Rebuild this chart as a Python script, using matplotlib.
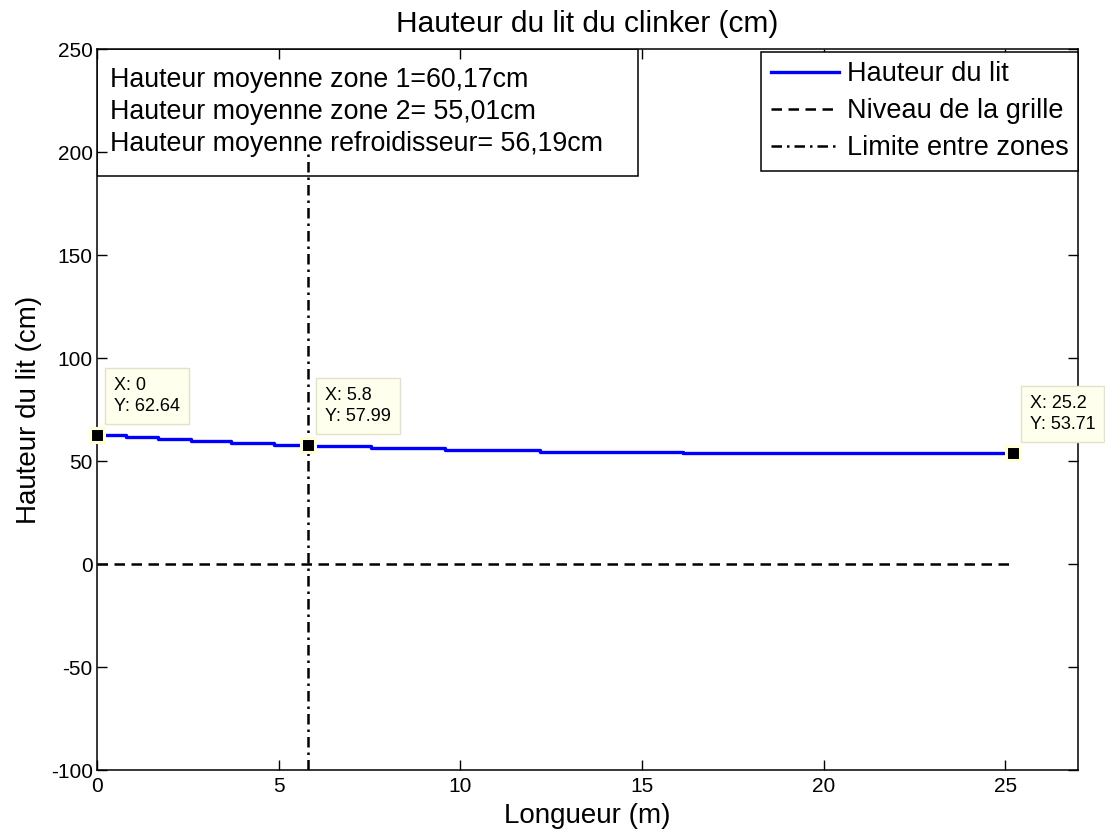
import matplotlib
matplotlib.use("Agg")
import matplotlib.pyplot as plt
from matplotlib.patches import Rectangle

plt.rcParams['font.family'] = ['Liberation Sans', 'DejaVu Sans']
plt.rcParams['axes.unicode_minus'] = False

# Bed height profile along the cooler (step positions in m, levels in cm)
bed_x = [0.0, 0.81, 1.67, 2.58, 3.68, 4.86, 5.8, 7.54, 9.59, 12.18, 16.14, 25.2]
bed_y = [62.64, 61.5, 60.6, 59.8, 58.9, 57.99, 57.1, 56.2, 55.3, 54.6, 53.71, 53.71]

# Grate level
grate_x = [0.0, 25.2]
grate_y = [0.0, 0.0]

# Limit between zone 1 and zone 2
limit_x = [5.8, 5.8]
limit_y = [-100.0, 200.0]

# Data tips
tips_x = [0.0, 5.8, 25.2]
tips_y = [62.64, 57.99, 53.71]
tips_label_x = ["0", "5.8", "25.2"]

x_ticks = [0, 5, 10, 15, 20, 25]
y_ticks = [-100, -50, 0, 50, 100, 150, 200, 250]

summary_lines = [
    "Hauteur moyenne zone 1=60,17cm",
    "Hauteur moyenne zone 2= 55,01cm",
    "Hauteur moyenne refroidisseur= 56,19cm",
]

W, H = 1105, 834
fig = plt.figure(figsize=(W / 100, H / 100), dpi=100)
ax = fig.add_axes([97 / W, 1 - 770 / H, (1078 - 97) / W, (770 - 49) / H])

ax.plot(bed_x, bed_y, color=(0, 0, 1), lw=2.4, drawstyle='steps-post',
        label='Hauteur du lit', zorder=4)
ax.plot(grate_x, grate_y, color='black', lw=1.8, linestyle=(0, (4.2, 2.6)),
        label='Niveau de la grille', zorder=4)
ax.plot(limit_x, limit_y, color='black', lw=1.8, linestyle=(0, (4.2, 2.0, 1.0, 2.0)),
        label='Limite entre zones', zorder=4)

ax.set_xlim(0, 27)
ax.set_ylim(-100, 250)
ax.set_xticks(x_ticks)
ax.set_yticks(y_ticks)
ax.tick_params(direction='in', length=7, width=1, top=True, right=True,
               labelsize=15)
ax.tick_params(axis='x', pad=5)
ax.tick_params(axis='y', pad=3)
for sp in ax.spines.values():
    sp.set_linewidth(1.1)

ax.set_title('Hauteur du lit du clinker (cm)', fontsize=21.5, pad=12)
ax.set_xlabel('Longueur (m)', fontsize=20, labelpad=5)
ax.set_ylabel('Hauteur du lit (cm)', fontsize=20, labelpad=6)

# Summary text box in the upper left corner (ticks stay visible over it)
ax.add_patch(Rectangle((0, 0.824), 0.5515, 0.176, transform=ax.transAxes,
                       facecolor='white', edgecolor='black', lw=1.1, zorder=1.2))
for i, line in enumerate(summary_lines):
    ax.text(0.013, 0.957 - i * 0.0444, line, transform=ax.transAxes,
            fontsize=19.3, va='center', ha='left', zorder=3)

# Data tips
for tx, ty, lab in zip(tips_x, tips_y, tips_label_x):
    ax.plot(tx, ty, marker='s', markersize=10, markerfacecolor='black',
            markeredgecolor='#FFFFD8', markeredgewidth=2.2, zorder=6, clip_on=False)
    ax.annotate(f"X: {lab}\nY: {ty:.2f}", xy=(tx, ty), xytext=(17, 20),
                textcoords='offset pixels', fontsize=13, ha='left', va='bottom',
                linespacing=1.3, annotation_clip=False, zorder=7,
                bbox=dict(boxstyle='square,pad=0.5', facecolor='#FFFFEE',
                          edgecolor='#E2E2C8', lw=1))

leg = ax.legend(loc='upper right', bbox_to_anchor=(1.0, 0.996), fontsize=19.5,
                frameon=True, fancybox=False, framealpha=1, edgecolor='black',
                borderaxespad=0, handlelength=2.5, handletextpad=0.3,
                labelspacing=0.4, borderpad=0.35)
leg.get_frame().set_linewidth(1.1)
leg.set_zorder(8)

fig.savefig('out.png', dpi=100)
